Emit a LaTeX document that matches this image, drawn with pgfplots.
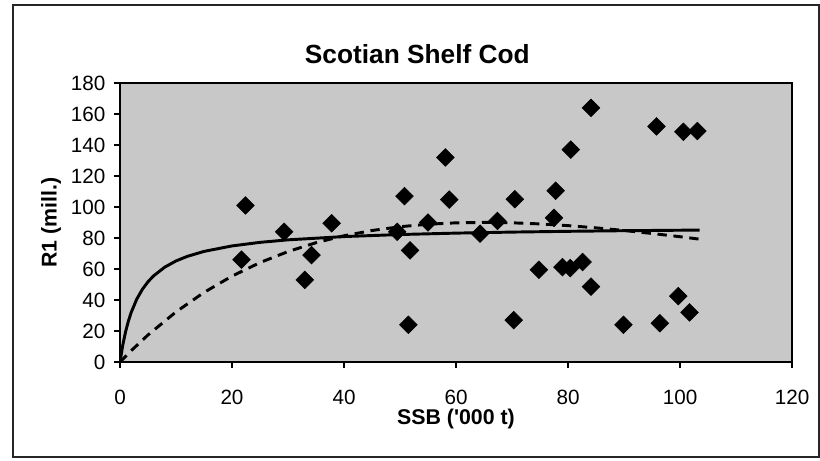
\documentclass[border=0pt]{standalone}
\usepackage{pgfplots}
\pgfplotsset{compat=1.18}
\usepackage{fontspec}
\setmainfont{Liberation Sans}
\begin{document}
\begin{tikzpicture}
\useasboundingbox (-90pt,-73.5pt) rectangle (525pt,271.5pt);
\draw[line width=0.9pt, black!85] (-80.25pt,-71.25pt) rectangle (524.25pt,267.75pt);
\begin{axis}[
  at={(0pt,0pt)}, anchor=south west,
  scale only axis, width=504pt, height=209.25pt,
  xmin=0, xmax=120, ymin=0, ymax=180,
  xtick={0,20,...,120}, ytick={0,20,...,180},
  xtick pos=bottom, ytick pos=left,
  tick align=outside, major tick length=4.5pt,
  every tick/.append style={black, line width=1pt},
  axis line style={line width=1.5pt},
  axis background/.style={fill={rgb,255:red,200;green,200;blue,200}},
  ticklabel style={font=\fontsize{15.5}{18}\selectfont},
  /pgf/number format/assume math mode=true,
  xticklabel style={yshift=-13pt},
  yticklabel style={xshift=-3pt},
]
\addplot[no marks, black, line width=2.2pt] coordinates {
(0,0) (0.5,11.0) (1,19.56) (1.5,26.4) (2,32.0) (3,40.62) (4,46.93) (5,51.76)
(6,55.58) (8,61.22) (10,65.19) (12,68.13) (15,71.35) (20,74.89) (25,77.19)
(30,78.81) (40,80.92) (50,82.24) (60,83.15) (70,83.81) (80,84.31) (90,84.71) (103.5,85.12)
};
\addplot[no marks, black, line width=2.2pt, dash pattern=on 7pt off 5pt] coordinates {
(0,0) (2,7.31) (5,17.45) (10,32.32) (15,44.88) (20,55.41) (25,64.14) (30,71.25)
(35,76.97) (40,81.45) (45,84.83) (50,87.28) (55,88.89) (60,89.78) (65,90.06)
(70,89.80) (75,89.09) (80,87.98) (85,86.55) (90,84.86) (95,82.91) (100,80.83) (103.5,79.25)
};
\addplot[only marks, mark=square*, mark size=4.7pt, mark options={rotate=45, fill=black, draw=black}] coordinates {
(22.4,101) (21.7,66) (29.3,84) (33.0,53) (34.2,69) (37.8,89.5) (49.5,84)
(50.8,107) (51.8,72) (51.5,24) (55.0,90) (58.1,132) (58.8,104.8) (64.3,82.8)
(67.4,91) (70.5,105) (70.3,27) (74.8,59.5) (77.8,110.5) (77.5,93) (79.0,61.2)
(80.4,60.6) (80.5,137) (82.6,64.5) (84.1,164) (84.1,48.6) (89.9,24) (95.8,152)
(96.4,25) (99.7,42.5) (100.6,148.5) (103.1,149) (101.7,32)
};
\end{axis}
\node[font=\bfseries\fontsize{19.7}{23}\selectfont] at (223pt,231pt) {Scotian Shelf Cod};
\node[font=\bfseries\fontsize{16}{19}\selectfont] at (252pt,-42.75pt) {SSB (\textquotesingle 000 t)};
\node[font=\bfseries\fontsize{16}{19}\selectfont, rotate=90] at (-51.75pt,104.6pt) {R1 (mill.)};
\end{tikzpicture}
\end{document}
